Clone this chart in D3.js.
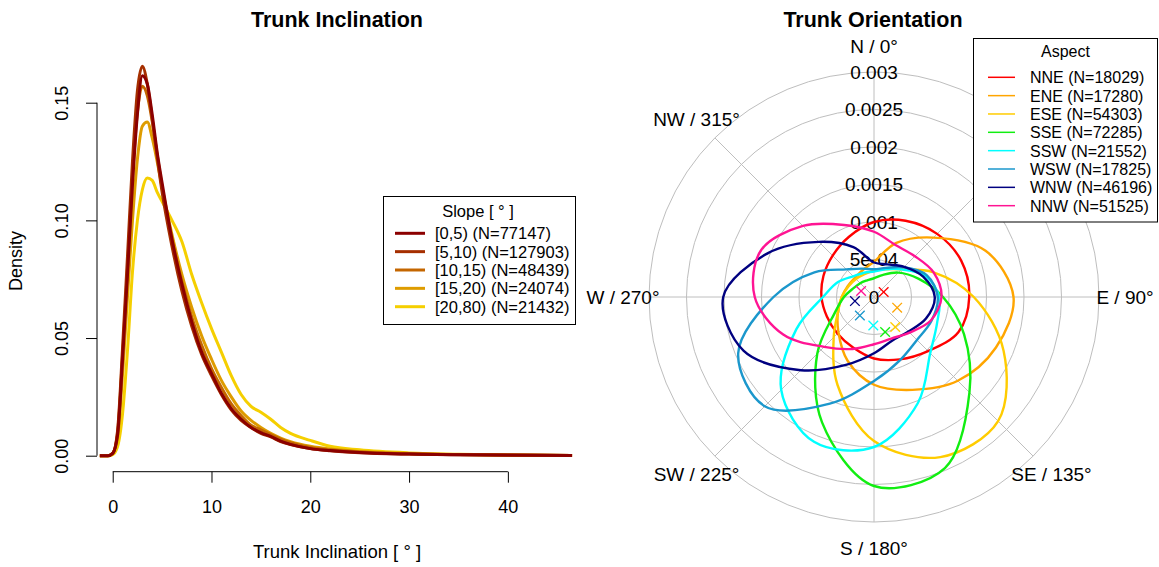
<!DOCTYPE html>
<html>
<head>
<meta charset="utf-8">
<script src="https://cdn.jsdelivr.net/npm/d3@7"></script>
<style>
  html, body { margin: 0; padding: 0; background: #fff; }
  svg { display: block; font-family: "Liberation Sans", Arial, Helvetica, sans-serif; }
</style>
</head>
<body>
<svg id="chart" width="1159" height="567"></svg>
<script>
// ---------- Trunk inclination: kernel densities by slope class ----------
const inclinationGrid = [-1.3, -0.5, 0, 0.5, 1, 1.5, 2, 2.5, 3, 3.5, 4, 4.5, 5, 6, 7, 8, 9, 10,
  11, 12, 13, 14, 15, 16, 17, 18, 20, 22, 25, 30, 35, 40, 46.5];
const slopeClasses = ["[0,5)", "[5,10)", "[10,15)", "[15,20)", "[20,80)"];
const slopeCounts = [77147, 127903, 48439, 24074, 21432];
const densSlope0_5 = [0, 0, 0.001, 0.009, 0.041, 0.077, 0.115, 0.145, 0.1615, 0.158, 0.145, 0.129, 0.116,
  0.092, 0.073, 0.057, 0.044, 0.035, 0.0265, 0.020, 0.0155, 0.012, 0.0098, 0.0082, 0.0062, 0.0048,
  0.003, 0.0022, 0.0014, 0.0007, 0.0004, 0.0003, 0.0001];
const densSlope5_10 = [0, 0, 0.001, 0.011, 0.046, 0.085, 0.125, 0.155, 0.1655, 0.158, 0.143, 0.127, 0.112,
  0.089, 0.070, 0.055, 0.043, 0.034, 0.026, 0.0195, 0.015, 0.012, 0.0095, 0.008, 0.006, 0.0047,
  0.003, 0.0021, 0.0013, 0.0007, 0.0004, 0.0002, 0.0001];
const densSlope10_15 = [0, 0, 0.001, 0.010, 0.043, 0.080, 0.118, 0.146, 0.157, 0.153, 0.142, 0.128, 0.114,
  0.092, 0.074, 0.059, 0.047, 0.037, 0.029, 0.022, 0.017, 0.013, 0.011, 0.009, 0.007, 0.0055,
  0.0035, 0.0025, 0.0016, 0.0008, 0.0005, 0.0003, 0.0001];
const densSlope15_20 = [0, 0, 0.001, 0.008, 0.035, 0.068, 0.100, 0.126, 0.140, 0.1418, 0.135, 0.125, 0.114,
  0.094, 0.077, 0.063, 0.051, 0.041, 0.032, 0.025, 0.019, 0.015, 0.012, 0.0095, 0.0075, 0.006,
  0.004, 0.0028, 0.0018, 0.0009, 0.0005, 0.0003, 0.0001];
const densSlope20_80 = [0, 0, 0.0005, 0.004, 0.018, 0.045, 0.078, 0.100, 0.113, 0.118, 0.117, 0.112, 0.108,
  0.100, 0.091, 0.077, 0.065, 0.054, 0.044, 0.034, 0.026, 0.021, 0.0185, 0.0155, 0.012, 0.0095,
  0.0065, 0.004, 0.0025, 0.0012, 0.0006, 0.0003, 0.0001];
const inclinationTicks = [0, 10, 20, 30, 40];
const densityTicks = [0, 0.05, 0.10, 0.15];

// ---------- Trunk orientation: circular densities by aspect ----------
const orientationAngles = [0, 22.5, 45, 67.5, 90, 112.5, 135, 157.5, 180, 202.5, 225, 247.5, 270, 292.5, 315, 337.5];
const aspectNames = ["NNE", "ENE", "ESE", "SSE", "SSW", "WSW", "WNW", "NNW"];
const aspectCounts = [18029, 17280, 54303, 72285, 21552, 17825, 46196, 51525];
const densNNE = [0.00100, 0.00110, 0.00119, 0.00126, 0.00127, 0.00122, 0.00102, 0.00090,
  0.00082, 0.00073, 0.00069, 0.00068, 0.00070, 0.00073, 0.00078, 0.00087];
const densENE = [0.00047, 0.00078, 0.00112, 0.00161, 0.00186, 0.00176, 0.00158, 0.00134,
  0.00117, 0.00092, 0.00067, 0.00052, 0.00043, 0.00038, 0.00036, 0.00039];
const densESE = [0.00035, 0.00040, 0.00052, 0.00086, 0.00133, 0.00187, 0.00234, 0.00231,
  0.00192, 0.00127, 0.00076, 0.00052, 0.00043, 0.00037, 0.00034, 0.00033];
const densSSE = [0.00025, 0.00032, 0.00046, 0.00064, 0.00092, 0.00130, 0.00180, 0.00247,
  0.00252, 0.00181, 0.00107, 0.00057, 0.00040, 0.00030, 0.00026, 0.00024];
const densSSW = [0.00034, 0.00040, 0.00052, 0.00074, 0.00087, 0.00091, 0.00106, 0.00153,
  0.00200, 0.00209, 0.00175, 0.00112, 0.00068, 0.00052, 0.00039, 0.00035];
const densWSW = [0.00037, 0.00042, 0.00056, 0.00076, 0.00085, 0.00083, 0.00081, 0.00091,
  0.00112, 0.00154, 0.00206, 0.00196, 0.00134, 0.00086, 0.00052, 0.00041];
const densWNW = [0.00046, 0.00047, 0.00057, 0.00071, 0.00081, 0.00075, 0.00065, 0.00063,
  0.00075, 0.00098, 0.00138, 0.00188, 0.00201, 0.00153, 0.00104, 0.00072];
const densNNW = [0.00087, 0.00075, 0.00077, 0.00086, 0.00090, 0.00082, 0.00067, 0.00060,
  0.00063, 0.00075, 0.00094, 0.00131, 0.00159, 0.00163, 0.00134, 0.00104];
// mean resultant direction (degrees) and length of each aspect group
const meanDirection = [62.7, 114.7, 144.7, 162.4, 181.4, 217.4, 258.0, 295.0];
const meanLength = [0.000145, 0.00034, 0.00049, 0.00049, 0.00038, 0.00031, 0.00026, 0.00019];
const radialTicks = [0, 0.0005, 0.001, 0.0015, 0.002, 0.0025, 0.003];
const radialTickLabels = ["0", "5e-04", "0.001", "0.0015", "0.002", "0.0025", "0.003"];
const compassAngles = [0, 45, 90, 135, 180, 225, 270, 315];
const compassLabels = ["N / 0°", "NE / 45°", "E / 90°", "SE / 135°", "S / 180°", "SW / 225°", "W / 270°", "NW / 315°"];

// ---------- styling ----------
const slopeColors = ["#8B0000", "#A52F00", "#C46600", "#DE9C00", "#F5CF00"];
const aspectColors = ["#FF0000", "#FFA500", "#FFCC00", "#11EE11", "#00FFFF", "#1B97CC", "#000080", "#FF1493"];
const svg = d3.select("#chart");
svg.append("rect").attr("width", 1159).attr("height", 567).attr("fill", "#fff");

// ================= left panel =================
const xL = d3.scaleLinear().domain([-1.59, 47.1]).range([97, 578]);
const yL = d3.scaleLinear().domain([0, 0.15]).range([455.7, 102.7]);
const left = svg.append("g");

left.append("text").attr("x", 337).attr("y", 27).attr("text-anchor", "middle")
  .attr("font-size", 21.5).attr("font-weight", "bold").text("Trunk Inclination");

// y axis (R style: detached, labels parallel to axis)
const yAxis = left.append("g").attr("transform", "translate(97,0)")
  .call(d3.axisLeft(yL).tickValues(densityTicks).tickFormat(d3.format(".2f")).tickSize(11).tickSizeOuter(0));
yAxis.select(".domain").remove();
yAxis.append("line").attr("x1", 0).attr("x2", 0)
  .attr("y1", yL(densityTicks[0])).attr("y2", yL(densityTicks[densityTicks.length - 1]))
  .attr("stroke", "#000");
yAxis.selectAll(".tick line").attr("stroke", "#000");
yAxis.selectAll(".tick text")
  .attr("transform", "rotate(-90)").attr("x", 0).attr("y", -29).attr("dy", 0)
  .attr("text-anchor", "middle").attr("fill", "#000").attr("font-size", 18)
  .attr("font-family", "Liberation Sans, Arial, sans-serif");

// x axis
const xAxis = left.append("g").attr("transform", "translate(0,471.7)")
  .call(d3.axisBottom(xL).tickValues(inclinationTicks).tickSize(11).tickSizeOuter(0));
xAxis.select(".domain").remove();
xAxis.append("line").attr("y1", 0).attr("y2", 0)
  .attr("x1", xL(inclinationTicks[0])).attr("x2", xL(inclinationTicks[inclinationTicks.length - 1]))
  .attr("stroke", "#000");
xAxis.selectAll(".tick line").attr("stroke", "#000");
xAxis.selectAll(".tick text").attr("y", 41.5).attr("dy", 0).attr("fill", "#000")
  .attr("font-size", 18).attr("font-family", "Liberation Sans, Arial, sans-serif");

left.append("text").attr("transform", "translate(22,261) rotate(-90)").attr("text-anchor", "middle")
  .attr("font-size", 18).text("Density");
left.append("text").attr("x", 337).attr("y", 558).attr("text-anchor", "middle")
  .attr("font-size", 18.5).text("Trunk Inclination [ ° ]");

const slopeSeries = [densSlope0_5, densSlope5_10, densSlope10_15, densSlope15_20, densSlope20_80];
const lineL = d3.line().x(d => xL(d[0])).y(d => yL(d[1])).curve(d3.curveMonotoneX);
// draw the steepest classes last so they sit on top
for (let i = slopeSeries.length - 1; i >= 0; i--) {
  const pts = inclinationGrid.map((x, j) => [x, slopeSeries[i][j]]);
  left.append("path").attr("d", lineL(pts)).attr("fill", "none")
    .attr("stroke", slopeColors[i]).attr("stroke-width", 3).attr("stroke-linejoin", "round");
}

// legend
const legL = left.append("g");
legL.append("rect").attr("x", 383.5).attr("y", 196.5).attr("width", 192).attr("height", 128)
  .attr("fill", "#fff").attr("stroke", "#000").attr("stroke-width", 1);
legL.append("text").attr("x", 478).attr("y", 216.5).attr("text-anchor", "middle")
  .attr("font-size", 16.5).text("Slope [ ° ]");
slopeClasses.forEach((c, i) => {
  const y = 233.3 + i * 18.35;
  legL.append("line").attr("x1", 395).attr("x2", 425).attr("y1", y).attr("y2", y)
    .attr("stroke", slopeColors[i]).attr("stroke-width", 3);
  legL.append("text").attr("x", 435).attr("y", y + 6).attr("font-size", 16.5)
    .text(`${c} (N=${slopeCounts[i]})`);
});

// ================= right panel =================
const cx = 874, cy = 297;
const legendBox = { x: 973.5, y: 38.5, w: 184, h: 183.5 };
const rScale = d3.scaleLinear().domain([0, 0.003]).range([0, 225]);
const right = svg.append("g");
right.append("text").attr("x", 873).attr("y", 27).attr("text-anchor", "middle")
  .attr("font-size", 21.5).attr("font-weight", "bold").text("Trunk Orientation");

const polar = right.append("g").attr("transform", `translate(${cx},${cy})`);
const rad = a => a * Math.PI / 180;
const rMax = rScale(radialTicks[radialTicks.length - 1]);

// grid rings and spokes
polar.selectAll("circle.ring").data(radialTicks.slice(1)).enter().append("circle")
  .attr("r", d => rScale(d)).attr("fill", "none").attr("stroke", "#BEBEBE").attr("stroke-width", 1);
polar.selectAll("line.spoke").data(compassAngles).enter().append("line")
  .attr("x1", 0).attr("y1", 0)
  .attr("x2", d => rMax * Math.sin(rad(d))).attr("y2", d => -rMax * Math.cos(rad(d)))
  .attr("stroke", "#BEBEBE").attr("stroke-width", 1);

// ring labels
polar.selectAll("text.rlab").data(radialTicks).enter().append("text")
  .attr("x", 0).attr("y", d => -rScale(d) + 6.8).attr("text-anchor", "middle")
  .attr("font-size", 19).text((d, i) => radialTickLabels[i]);

// compass labels (a label that falls under the legend box stays hidden)
const labelR = rMax + 26;
const compass = compassAngles.map((a, i) => ({
  x: labelR * Math.sin(rad(a)), y: -labelR * Math.cos(rad(a)), text: compassLabels[i]
})).filter(d => {
  const ax = cx + d.x, ay = cy + d.y;
  return !(ax > legendBox.x && ax < legendBox.x + legendBox.w && ay > legendBox.y && ay < legendBox.y + legendBox.h);
});
polar.selectAll("text.clab").data(compass).enter().append("text")
  .attr("x", d => d.x).attr("y", d => d.y + 6.8)
  .attr("text-anchor", "middle").attr("font-size", 19).text(d => d.text);

// density curves
const aspectSeries = [densNNE, densENE, densESE, densSSE, densSSW, densWSW, densWNW, densNNW];
const radial = d3.lineRadial().angle(d => rad(d[0])).radius(d => rScale(d[1]))
  .curve(d3.curveCatmullRomClosed.alpha(0.5));
aspectSeries.forEach((s, i) => {
  const pts = orientationAngles.map((a, j) => [a, s[j]]);
  polar.append("path").attr("d", radial(pts)).attr("fill", "none")
    .attr("stroke", aspectColors[i]).attr("stroke-width", 2.4).attr("stroke-linejoin", "round");
});

// mean-direction markers
meanDirection.forEach((a, i) => {
  const r = rScale(meanLength[i]);
  const px = r * Math.sin(rad(a)), py = -r * Math.cos(rad(a));
  const h = 4.8;
  const g = polar.append("g").attr("stroke", aspectColors[i]).attr("stroke-width", 1.3);
  g.append("line").attr("x1", px - h).attr("y1", py - h).attr("x2", px + h).attr("y2", py + h);
  g.append("line").attr("x1", px - h).attr("y1", py + h).attr("x2", px + h).attr("y2", py - h);
});

// legend
const legR = right.append("g");
legR.append("rect").attr("x", legendBox.x).attr("y", legendBox.y).attr("width", legendBox.w).attr("height", legendBox.h)
  .attr("fill", "#fff").attr("stroke", "#000").attr("stroke-width", 1);
legR.append("text").attr("x", 1065.5).attr("y", 57).attr("text-anchor", "middle")
  .attr("font-size", 16).text("Aspect");
aspectNames.forEach((n, i) => {
  const y = 77.3 + i * 18.34;
  legR.append("line").attr("x1", 988).attr("x2", 1015).attr("y1", y).attr("y2", y)
    .attr("stroke", aspectColors[i]).attr("stroke-width", 1.5);
  legR.append("text").attr("x", 1030).attr("y", y + 6).attr("font-size", 16)
    .text(`${n} (N=${aspectCounts[i]})`);
});
</script>
</body>
</html>
